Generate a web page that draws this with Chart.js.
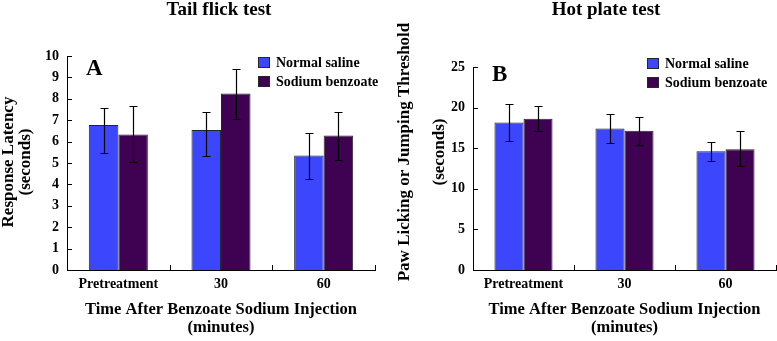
<!DOCTYPE html>
<html>
<head>
<meta charset="utf-8">
<script src="https://cdn.jsdelivr.net/npm/chart.js@4.4.1/dist/chart.umd.min.js"></script>
<style>
  html, body { margin: 0; padding: 0; background: #fff; }
  #wrap { position: relative; width: 777px; height: 341px; }
  .panel { position: absolute; top: 0; }
  canvas { display: block; }
</style>
</head>
<body>
<div id="wrap">
  <div class="panel" style="left:0"><canvas id="tailChart" width="388" height="341"></canvas></div>
  <div class="panel" style="left:388px"><canvas id="hotChart" width="389" height="341"></canvas></div>
</div>
<script>
// Data
const categories = ['Pretreatment', '30', '60'];
const seriesNames = ['Normal saline', 'Sodium benzoate'];

// Tail flick test (seconds): bar value, error bar upper and lower ends
const tailSaline = [6.78, 6.54, 5.35];
const tailSalineHigh = [7.57, 7.38, 6.41];
const tailSalineLow = [5.47, 5.33, 4.24];
const tailBenzoate = [6.33, 8.25, 6.29];
const tailBenzoateHigh = [7.65, 9.41, 7.39];
const tailBenzoateLow = [5.03, 7.04, 5.13];

// Hot plate test (seconds)
const hotSaline = [18.16, 17.43, 14.63];
const hotSalineHigh = [20.42, 19.27, 15.74];
const hotSalineLow = [15.86, 15.66, 13.48];
const hotBenzoate = [18.62, 17.14, 14.88];
const hotBenzoateHigh = [20.17, 18.90, 17.06];
const hotBenzoateLow = [17.06, 15.41, 12.75];

const tailAxis = { max: 10, step: 1 };
const hotAxis = { max: 25, step: 5 };

const SERIF = "'Liberation Serif', 'Times New Roman', serif";
const BLUE = '#3b46fd';
const PURPLE = '#3f0152';
const EDGE = '#262626';

Chart.defaults.font.family = SERIF;
Chart.defaults.color = '#000';

// error bars, inward ticks, legend, panel letter and titles
const decorPlugin = {
  id: 'decor',
  afterDatasetsDraw(chart) {
    const ctx = chart.ctx;
    const yScale = chart.scales.y;
    ctx.save();
    ctx.strokeStyle = '#000';
    ctx.lineWidth = 1.2;
    chart.data.datasets.forEach((ds, i) => {
      const meta = chart.getDatasetMeta(i);
      meta.data.forEach((bar, j) => {
        const top = Math.round(yScale.getPixelForValue(ds.high[j])) + 0.5;
        const bot = Math.round(yScale.getPixelForValue(ds.low[j])) + 0.5;
        const cx = Math.round(bar.x) + 0.5;
        ctx.beginPath();
        ctx.moveTo(cx, top); ctx.lineTo(cx, bot);
        ctx.moveTo(cx - 4, top); ctx.lineTo(cx + 4, top);
        ctx.moveTo(cx - 4, bot); ctx.lineTo(cx + 4, bot);
        ctx.stroke();
      });
    });
    ctx.restore();
  },
  afterDraw(chart, args, opts) {
    const ctx = chart.ctx;
    const area = chart.chartArea;
    const xScale = chart.scales.x, yScale = chart.scales.y;
    ctx.save();

    // inward tick marks
    ctx.strokeStyle = '#000';
    ctx.lineWidth = 1;
    ctx.beginPath();
    yScale.ticks.forEach(t => {
      const py = Math.round(yScale.getPixelForValue(t.value)) + 0.5;
      ctx.moveTo(area.left, py); ctx.lineTo(area.left + 5, py);
    });
    const n = categories.length;
    for (let i = 0; i < n; i++) {
      const px = i < n - 1
        ? (xScale.getPixelForValue(i) + xScale.getPixelForValue(i + 1)) / 2
        : area.right - 0.5;
      const rx = Math.round(px) + 0.5;
      ctx.moveTo(rx, area.bottom); ctx.lineTo(rx, area.bottom - 5);
    }
    ctx.stroke();

    // legend
    ctx.font = 'bold 14px ' + SERIF;
    ctx.textBaseline = 'middle';
    ctx.textAlign = 'left';
    chart.data.datasets.forEach((ds, i) => {
      const top = opts.legendTop + i * 19;
      ctx.fillStyle = ds.backgroundColor;
      ctx.fillRect(opts.legendX, top, 12, 11);
      ctx.strokeStyle = EDGE;
      ctx.strokeRect(opts.legendX + 0.5, top + 0.5, 11, 10);
      ctx.fillStyle = '#000';
      ctx.fillText(ds.label, opts.legendX + 18, top + 6);
    });

    // panel letter
    ctx.font = 'bold 23px ' + SERIF;
    ctx.textBaseline = 'alphabetic';
    ctx.fillText(opts.letter, opts.letterX, opts.letterY);

    // chart title
    ctx.font = 'bold 19px ' + SERIF;
    ctx.textAlign = 'center';
    ctx.textBaseline = 'middle';
    ctx.fillText(opts.title, opts.titleX, opts.titleY);

    // y axis title, rotated
    ctx.font = 'bold 17px ' + SERIF;
    opts.yTitle.forEach((line, i) => {
      ctx.save();
      ctx.translate(opts.yTitleX[i], opts.yTitleY);
      ctx.rotate(-Math.PI / 2);
      ctx.fillText(line, 0, 0);
      ctx.restore();
    });
    ctx.restore();
  }
};

function makeChart(id, sets, axis, yWidth, padding, decor) {
  const ctx = document.getElementById(id);
  return new Chart(ctx, {
    type: 'bar',
    data: {
      labels: categories,
      datasets: sets.map((s, i) => ({
        label: seriesNames[i],
        data: s.values,
        high: s.high,
        low: s.low,
        backgroundColor: s.color,
        borderColor: EDGE,
        borderWidth: 1,
        categoryPercentage: 0.575,
        barPercentage: 1.0
      }))
    },
    options: {
      responsive: false,
      animation: false,
      events: [],
      layout: { padding: padding },
      plugins: {
        legend: { display: false },
        title: { display: false },
        tooltip: { enabled: false },
        decor: decor
      },
      scales: {
        x: {
          grid: { display: false, drawTicks: false },
          border: { display: true, color: '#000', width: 1 },
          ticks: { padding: 6, font: { size: 14, weight: 'bold' }, color: '#000' },
          title: {
            display: true,
            text: ['Time After Benzoate Sodium Injection', '(minutes)'],
            font: { size: 16.5, weight: 'bold', lineHeight: '18px' },
            color: '#000',
            padding: { top: 0, bottom: 4 }
          },
          afterFit: s => { s.height = 341 - padding.bottom - decor.plotBottom; }
        },
        y: {
          min: 0,
          max: axis.max,
          grid: { display: false, drawTicks: false },
          border: { display: true, color: '#000', width: 1 },
          ticks: { stepSize: axis.step, padding: 8, font: { size: 14, weight: 'bold' }, color: '#000' },
          afterFit: s => { s.width = yWidth; }
        }
      }
    },
    plugins: [decorPlugin]
  });
}

makeChart('tailChart',
  [
    { values: tailSaline, high: tailSalineHigh, low: tailSalineLow, color: BLUE },
    { values: tailBenzoate, high: tailBenzoateHigh, low: tailBenzoateLow, color: PURPLE }
  ],
  tailAxis, 67,
  { left: 0, right: 13, top: 56, bottom: 0 },
  {
    plotBottom: 270,
    title: 'Tail flick test', titleX: 219, titleY: 10,
    letter: 'A', letterX: 86, letterY: 75,
    legendX: 258, legendTop: 57,
    yTitle: ['Response Latency', '(seconds)'], yTitleX: [9, 26], yTitleY: 162
  }
);

makeChart('hotChart',
  [
    { values: hotSaline, high: hotSalineHigh, low: hotSalineLow, color: BLUE },
    { values: hotBenzoate, high: hotBenzoateHigh, low: hotBenzoateLow, color: PURPLE }
  ],
  hotAxis, 85,
  { left: 0, right: 1, top: 67, bottom: 0 },
  {
    plotBottom: 270,
    title: 'Hot plate test', titleX: 218, titleY: 10,
    letter: 'B', letterX: 104, letterY: 81,
    legendX: 259, legendTop: 58,
    yTitle: ['Paw Licking or Jumping Threshold', '(seconds)'], yTitleX: [17, 52], yTitleY: 152
  }
);
</script>
</body>
</html>
